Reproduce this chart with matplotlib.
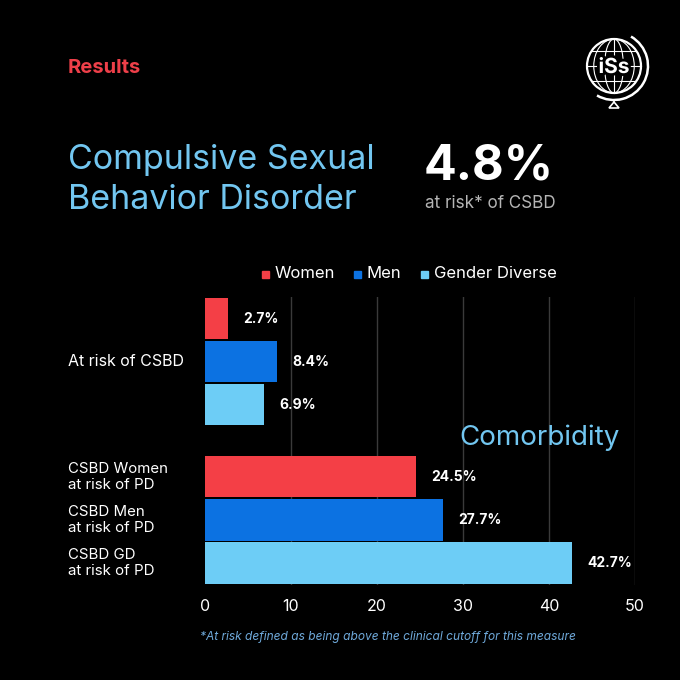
import matplotlib
matplotlib.use("Agg")
import matplotlib.pyplot as plt
import matplotlib.patches as mpatches
import matplotlib.patheffects as pe
import numpy as np

plt.rcParams['font.family'] = ['Inter', 'DejaVu Sans']

# datos
categorias = ["At risk of CSBD", "CSBD Women\nat risk of PD",
              "CSBD Men\nat risk of PD", "CSBD GD\nat risk of PD"]
riesgo_valores = [2.7, 8.4, 6.9]          # Women, Men, Gender Diverse
comorbilidad_valores = [24.5, 27.7, 42.7]  # Women, Men, GD
grupos = ["Women", "Men", "Gender Diverse"]
colores = ["#F43F46", "#0C72E2", "#6DCDF6"]
ticks_x = [0, 10, 20, 30, 40, 50]

BG = "#000000"
AZUL_TITULO = "#72C6F0"

fig = plt.figure(figsize=(6.8, 6.8), dpi=100)
fig.patch.set_facecolor(BG)

# capa de decoracion en pixeles
deco = fig.add_axes([0, 0, 1, 1])
deco.set_xlim(0, 680)
deco.set_ylim(680, 0)
deco.axis("off")
deco.set_facecolor(BG)

# grafico de barras
ax = fig.add_axes([205/680, 1-585/680, 430/680, 288/680])
ax.set_facecolor("none")

pos_riesgo = [0, 1, 2]
pos_comor = [3.67, 4.67, 5.67]
alto = 0.96

for i in range(3):
    ax.barh(pos_riesgo[i], riesgo_valores[i], height=alto, color=colores[i],
            zorder=3)
    ax.barh(pos_comor[i], comorbilidad_valores[i], height=alto, color=colores[i],
            zorder=3)

for p, v in zip(pos_riesgo + pos_comor, riesgo_valores + comorbilidad_valores):
    ax.annotate(f"{v}%", xy=(v, p), xytext=(11, 0), textcoords="offset points",
                va="center", ha="left", color="white", fontsize=10,
                fontweight="bold")

ax.set_xlim(0, 50)
ax.set_ylim(6.18, -0.5)
ax.set_xticks(ticks_x)
ax.set_xticklabels([str(t) for t in ticks_x], color="white", fontsize=11.5)
ax.tick_params(axis="x", length=0, pad=10)
ax.set_yticks([])
for s in ax.spines.values():
    s.set_visible(False)
ax.grid(axis="x", color="#3a3a3a", linewidth=1, zorder=0)
ax.get_xgridlines()[0].set_visible(False)

# etiquetas de categorias
ax.text(-0.318, 1, categorias[0], transform=ax.get_yaxis_transform(),
        ha="left", va="center", color="white", fontsize=11.5)
for p, c in zip(pos_comor, categorias[1:]):
    ax.text(-0.318, p, c, transform=ax.get_yaxis_transform(),
            ha="left", va="center", color="white", fontsize=10.8,
            linespacing=1.2)

ax.text(459, 438, "Comorbidity", transform=deco.transData, ha="left",
        va="center", color=AZUL_TITULO, fontsize=20)

# textos de cabecera
deco.text(68, 68, "Results", color="#EE3F49", fontsize=14.5,
          fontweight="bold", ha="left", va="center")
deco.text(68, 180, "Compulsive Sexual\nBehavior Disorder", color=AZUL_TITULO,
          fontsize=24.5, ha="left", va="center", linespacing=1.3)
deco.text(424, 166, "4.8%", color="white", fontsize=35, fontweight="bold",
          ha="left", va="center")
deco.text(425, 203, "at risk* of CSBD", color="#B5B5B5", fontsize=12.3,
          ha="left", va="center")

# leyenda
leg_x = [265, 357, 424]
for x, c, g in zip(leg_x, colores, grupos):
    deco.add_patch(mpatches.Rectangle((x-3.5, 270.5), 7, 7, color=c))
    deco.text(x+10, 274, g, color="white", fontsize=12, ha="left",
              va="center")

# nota al pie
deco.text(200, 637, "*At risk defined as being above the clinical cutoff for this measure",
          color="#6FA9DA", fontsize=8.6, style="italic", ha="left", va="center")

# logo
cx, cy, r = 614, 66, 27
deco.add_patch(mpatches.Circle((cx, cy), r, fill=False, ec="white", lw=1.6))
for w in [0.35, 0.75]:
    deco.add_patch(mpatches.Ellipse((cx, cy), 2*r*w, 2*r, fill=False,
                                    ec="white", lw=0.8))
deco.plot([cx, cx], [cy-r, cy+r], color="white", lw=0.8)
for dy in [-15, 0, 15]:
    hw = np.sqrt(r**2 - dy**2)
    deco.plot([cx-hw, cx+hw], [cy+dy, cy+dy], color="white", lw=0.8)
deco.add_patch(mpatches.Arc((cx, cy), 2*34, 2*34, theta1=-60, theta2=120,
                            color="white", lw=1.8))
deco.plot([cx, cx], [cy+r+7, cy+35], color="white", lw=1.2)
deco.add_patch(mpatches.Polygon([[cx-5, 108], [cx+5, 108], [cx, 102]],
                                closed=True, fill=False, ec="white", lw=1.2))
deco.text(cx, cy+1, "iSs", color="white", fontsize=15, fontweight="bold",
          ha="center", va="center",
          path_effects=[pe.withStroke(linewidth=4, foreground="black")])

fig.savefig("out.png", dpi=100, facecolor=BG)
